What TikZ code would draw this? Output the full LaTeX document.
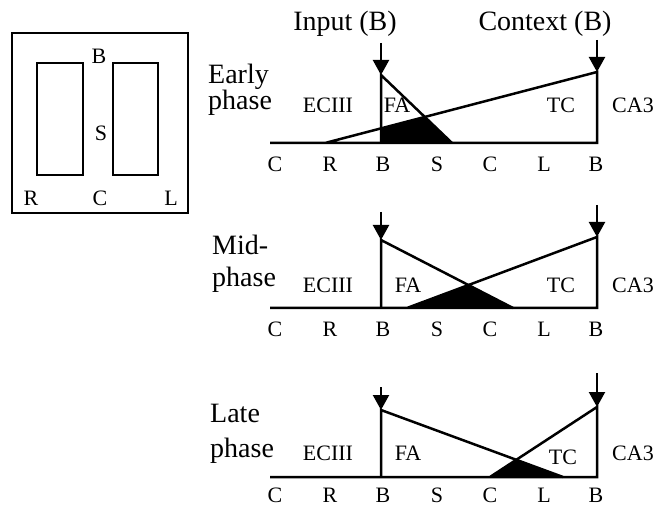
\documentclass[tikz,border=0pt]{standalone}
\usepackage{fontspec}
\setmainfont{Liberation Serif}
\usetikzlibrary{arrows.meta}
\begin{document}
\begin{tikzpicture}[x=1pt,y=-1pt,
  ln/.style={line width=2.5pt, line join=miter},
  arr/.style={line width=2.2pt,-{Triangle[length=15pt,width=16pt]}},
  big/.style={font=\fontsize{28}{30}\selectfont, inner sep=0pt, anchor=base},
  lbl/.style={font=\fontsize{22}{24}\selectfont, inner sep=0pt, anchor=base},
  ax/.style={font=\fontsize{22}{24}\selectfont, inner sep=0pt, anchor=base},
  boxl/.style={font=\fontsize{22}{24}\selectfont, inner sep=0pt, anchor=base}]
\useasboundingbox (0,0) rectangle (657,508);
% ---------- maze box ----------
\draw[ln] (12,33) rectangle (188,213);
\draw[ln] (37,63) rectangle (83,175);
\draw[ln] (113,63) rectangle (158,175);
\node[boxl] (mB) at (99,64) {B};
\node[boxl] (mS) at (101,141) {S};
\node[boxl] (mR) at (31,206) {R};
\node[boxl] (mC) at (100,206) {C};
\node[boxl] (mL) at (171,206) {L};
% ---------- headers ----------
\node[big] (inp) at (345,31) {Input (B)};
\node[big] (ctx) at (545,31) {Context (B)};
% ---------- panel 1 ----------
\coordinate (l1) at (270,143); \coordinate (r1) at (597,143);
\coordinate (fb1) at (381,143); \coordinate (ft1) at (381,75); \coordinate (fe1) at (452,143);
\coordinate (ts1) at (325,143); \coordinate (tt1) at (597,72);
\begin{scope}\clip (ts1)--(tt1)--(r1)--cycle; \fill (fb1)--(ft1)--(fe1)--cycle;\end{scope}
\draw[ln] (l1)--(r1)--(tt1)--(ts1);
\draw[ln] (fb1)--(ft1)--(fe1);
\coordinate (ai1) at (381,43); \coordinate (ac1) at (597,40);
\draw[arr] (ai1)--(ft1);
\draw[arr] (ac1)--(tt1);
\node[big, anchor=base west] (e1) at (208,84) {Early};
\node[big, anchor=base west] (p1) at (208,110) {phase};
\node[lbl] (ec1) at (328,113) {ECIII};
\node[lbl] (fa1) at (397,113) {FA};
\node[lbl] (tc1) at (561,113) {TC};
\node[lbl, anchor=base west] (ca1) at (612,113) {CA3};
% ---------- panel 2 ----------
\coordinate (l2) at (270,308); \coordinate (r2) at (597,308);
\coordinate (fb2) at (381,308); \coordinate (ft2) at (381,240); \coordinate (fe2) at (513,308);
\coordinate (ts2) at (407,308); \coordinate (tt2) at (597,237);
\begin{scope}\clip (ts2)--(tt2)--(r2)--cycle; \fill (fb2)--(ft2)--(fe2)--cycle;\end{scope}
\draw[ln] (l2)--(r2)--(tt2)--(ts2);
\draw[ln] (fb2)--(ft2)--(fe2);
\coordinate (ai2) at (381,212); \coordinate (ac2) at (597,205);
\draw[arr] (ai2)--(ft2);
\draw[arr] (ac2)--(tt2);
\node[big, anchor=base west] (e2) at (212,255) {Mid-};
\node[big, anchor=base west] (p2) at (212,287) {phase};
\node[lbl] (ec2) at (328,293) {ECIII};
\node[lbl] (fa2) at (408,293) {FA};
\node[lbl] (tc2) at (561,293) {TC};
\node[lbl, anchor=base west] (ca2) at (612,293) {CA3};
% ---------- panel 3 ----------
\coordinate (l3) at (270,477); \coordinate (r3) at (597,477);
\coordinate (fb3) at (381,477); \coordinate (ft3) at (381,410); \coordinate (fe3) at (563,477);
\coordinate (ts3) at (490,477); \coordinate (tt3) at (597,407);
\begin{scope}\clip (ts3)--(tt3)--(r3)--cycle; \fill (fb3)--(ft3)--(fe3)--cycle;\end{scope}
\draw[ln] (l3)--(r3)--(tt3)--(ts3);
\draw[ln] (fb3)--(ft3)--(fe3);
\coordinate (ai3) at (381,387); \coordinate (ac3) at (597,373);
\draw[arr] (ai3)--(ft3);
\draw[arr] (ac3)--(tt3);
\node[big, anchor=base west] (e3) at (210,422) {Late};
\node[big, anchor=base west] (p3) at (210,457) {phase};
\node[lbl] (ec3) at (328,460) {ECIII};
\node[lbl] (fa3) at (408,460) {FA};
\node[lbl] (tc3) at (563,464) {TC};
\node[lbl, anchor=base west] (ca3) at (612,460) {CA3};
% ---------- axis labels ----------
\foreach \y/\k in {172/1,337/2,502/3}{
  \foreach \x/\t/\i in {275/C/1,330/R/2,383/B/3,437/S/4,490/C/5,544/L/6,596/B/7}{
    \node[ax] (ax\k\i) at (\x,\y) {\t};
  }
}
\end{tikzpicture}
\end{document}
